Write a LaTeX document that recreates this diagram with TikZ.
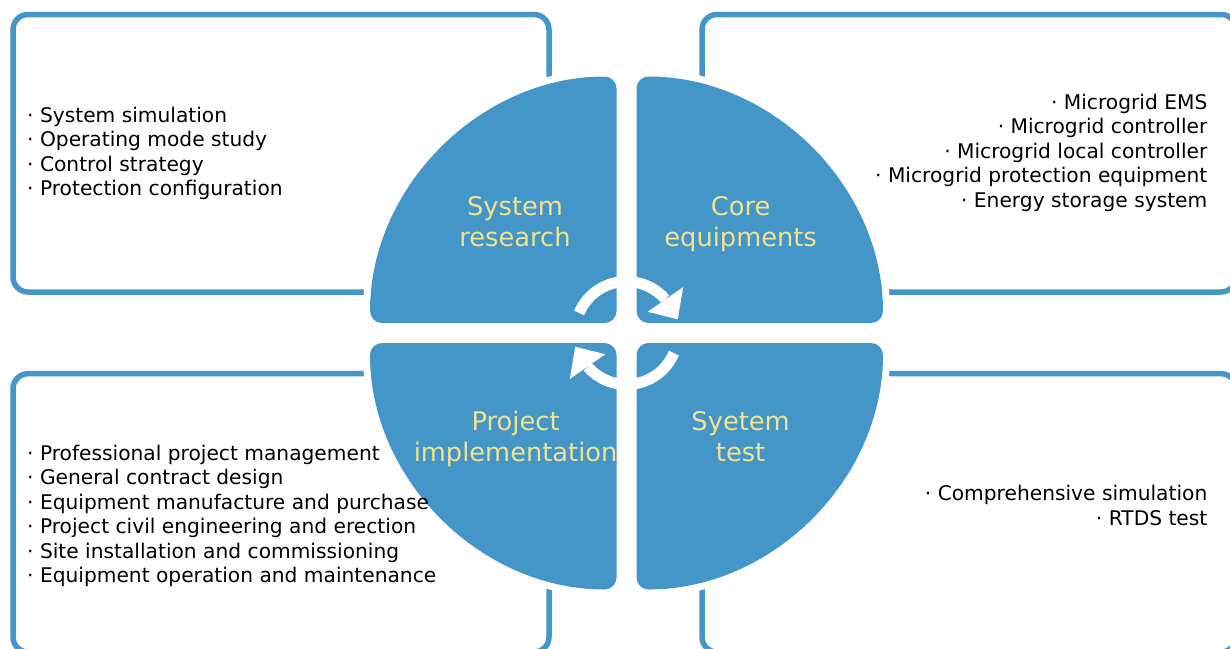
\documentclass[tikz,border=0pt]{standalone}
\usepackage{fontspec}
\setmainfont{DejaVu Sans}
\usetikzlibrary{calc}
\definecolor{cycleblue}{RGB}{69,150,200}
\definecolor{titleyellow}{RGB}{242,226,142}

\begin{document}
\begin{tikzpicture}[x=1pt,y=1pt,
  panel/.style={draw=cycleblue, line width=5.5pt, rounded corners=15pt},
  quarter/.style={fill=cycleblue, rounded corners=12pt,
    preaction={draw=white, line width=14pt}},
  phase/.style={text=titleyellow, inner sep=0pt, align=center,
    font=\fontsize{25.7}{31.5}\selectfont},
  items/.style={text=black, inner sep=0pt,
    font=\fontsize{20.2}{24.5}\selectfont},
  cyclearrow/.style={draw=white, line width=11pt},
  cyclehead/.style={fill=white}]

\useasboundingbox (0,0) rectangle (1230,-648);

% outlined panels holding the item lists
\draw[panel] (13,-14.5) rectangle (549,-292);
\draw[panel] (702,-14.5) rectangle (1236,-292);
\draw[panel] (13,-373.7) rectangle (549,-652);
\draw[panel] (702,-373.7) rectangle (1236,-652);

% the four quarter discs
\coordinate (O) at (626.5,-333);
\path[quarter] (616.5,-323) -- (370,-323)
  arc[start angle=180, end angle=90, radius=246.5] -- cycle;
\path[quarter] (636.5,-323) -- (636.5,-76.5)
  arc[start angle=90, end angle=0, radius=246.5] -- cycle;
\path[quarter] (616.5,-343) -- (616.5,-589.5)
  arc[start angle=270, end angle=180, radius=246.5] -- cycle;
\path[quarter] (636.5,-343) -- (883,-343)
  arc[start angle=0, end angle=-90, radius=246.5] -- cycle;

% circular arrows in the middle
\draw[cyclearrow] ($(O)+(157:51.5)$) arc[start angle=157, end angle=41, radius=51.5];
\fill[cyclehead] ($(O)+(39:73)$) -- ($(O)+(15:53)$) -- ($(O)+(45:30)$) -- cycle;
\draw[cyclearrow] ($(O)+(337:51.5)$) arc[start angle=337, end angle=221, radius=51.5];
\fill[cyclehead] ($(O)+(219:73)$) -- ($(O)+(195:53)$) -- ($(O)+(225:30)$) -- cycle;

% phase titles (anchored on the baseline of the last line)
\node[phase, anchor=base] (research) at (515,-246.5) {System\\research};
\node[phase, anchor=base] (core) at (740.6,-246.5) {Core\\equipments};
\node[phase, anchor=base] (impl) at (515.6,-461.5) {Project\\implementation};
\node[phase, anchor=base] (test) at (740.6,-461.5) {Syetem\\test};

% item lists (anchored on the baseline of the last line)
\node[items, anchor=base west, align=left] (researchlist) at (27,-195.5)
  {· System simulation\\· Operating mode study\\· Control strategy\\· Protection configuration};
\node[items, anchor=base east, align=right] (corelist) at (1207.5,-207)
  {· Microgrid EMS\\· Microgrid controller\\· Microgrid local controller\\· Microgrid protection equipment\\· Energy storage system};
\node[items, anchor=base west, align=left] (impllist) at (27,-582.5)
  {· Professional project management\\· General contract design\\· Equipment manufacture and purchase\\· Project civil engineering and erection\\· Site installation and commissioning\\· Equipment operation and maintenance};
\node[items, anchor=base east, align=right] (testlist) at (1207.5,-525.2)
  {· Comprehensive simulation\\· RTDS test};

\end{tikzpicture}
\end{document}
